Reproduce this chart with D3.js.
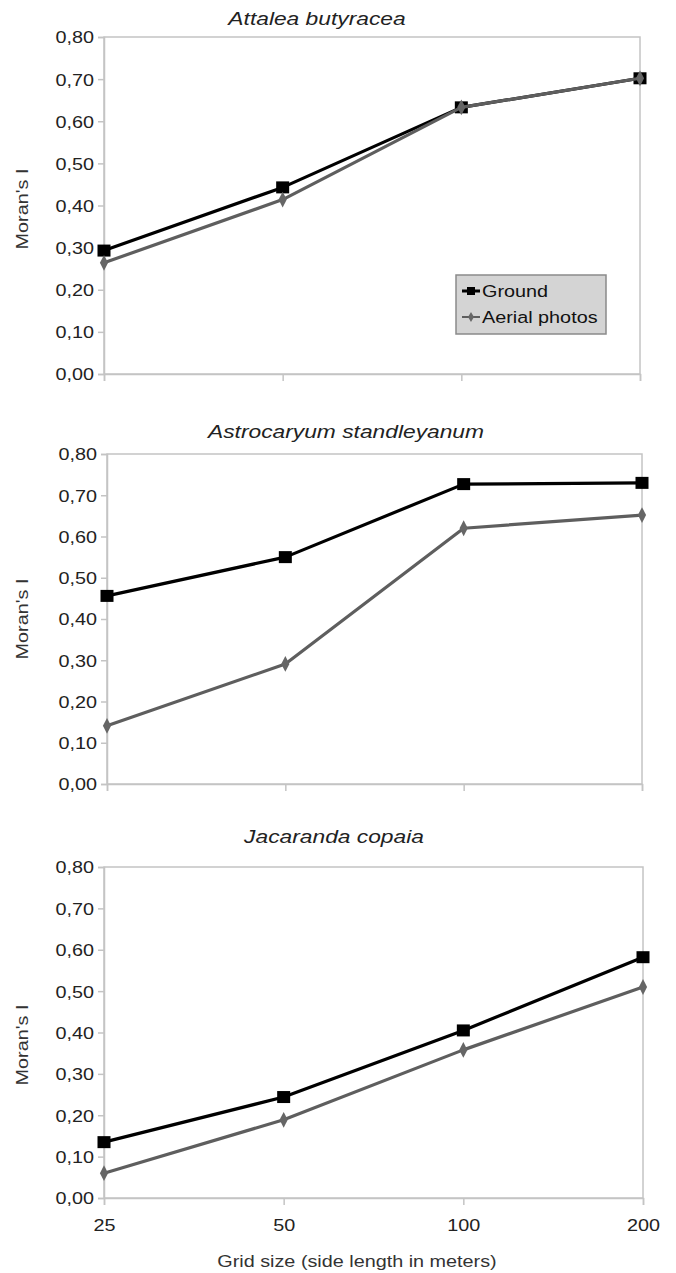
<!DOCTYPE html>
<html><head><meta charset="utf-8">
<script src="https://cdn.jsdelivr.net/npm/d3@7/dist/d3.min.js"></script>
<style>
html,body{margin:0;padding:0;background:#fff;}
svg{display:block;font-family:"Liberation Sans",Arial,sans-serif;}
</style></head>
<body>
<svg id="c" width="676" height="1273"></svg>
<script>
const categories = ["25", "50", "100", "200"];
const titles = ["Attalea butyracea", "Astrocaryum standleyanum", "Jacaranda copaia"];
const seriesNames = ["Ground", "Aerial photos"];
const attaleaGround = [0.293, 0.443, 0.633, 0.702];
const attaleaAerial = [0.264, 0.414, 0.633, 0.702];
const astroGround = [0.456, 0.550, 0.727, 0.730];
const astroAerial = [0.141, 0.291, 0.620, 0.652];
const jacaGround = [0.135, 0.244, 0.405, 0.582];
const jacaAerial = [0.060, 0.189, 0.358, 0.510];
const yTicks = [0, 0.1, 0.2, 0.3, 0.4, 0.5, 0.6, 0.7, 0.8];
const yTitle = "Moran's I";
const xTitle = "Grid size (side length in meters)";

const panelData = [
  [attaleaGround, attaleaAerial],
  [astroGround, astroAerial],
  [jacaGround, jacaAerial]
];
const layout = [
  {left: 104, right: 640, top: 37, bottom: 374, titleX: 317, titleY: 25, yTitleY: 209, showX: false, legend: true},
  {left: 107, right: 642, top: 454, bottom: 784, titleX: 346, titleY: 438, yTitleY: 619, showX: false, legend: false},
  {left: 104, right: 643, top: 867, bottom: 1198, titleX: 334, titleY: 843, yTitleY: 1045, showX: true, legend: false}
];

const SX = 1.2; // horizontal stretch of the reference lettering
const svg = d3.select("#c");
const gridColor = "#c4c4c4";
const colors = ["#000000", "#5e5e5e"];

function stretchText(sel) {
  sel.each(function () {
    const t = d3.select(this);
    const x0 = +(t.attr("x") || 0);
    t.attr("x", x0 / SX).attr("transform", `scale(${SX},1)`);
  });
}
function label(g, x, y, txt, size, opts = {}) {
  const gg = g.append("g").attr("transform", `translate(${x},${y})${opts.rotate ? " rotate(-90)" : ""}`);
  return gg.append("text").attr("transform", `scale(${SX},1)`)
    .attr("text-anchor", opts.anchor || "middle")
    .style("font-size", size + "px").style("font-style", opts.italic ? "italic" : "normal")
    .attr("fill", opts.fill || "#222").text(txt);
}

function drawMarker(g, type, x, y, color) {
  if (type === 0) {
    g.append("rect").attr("x", x - 6.5).attr("y", y - 6).attr("width", 13).attr("height", 12)
      .attr("fill", color);
  } else {
    g.append("path").attr("d", d3.symbol(d3.symbolDiamond, 72)())
      .attr("transform", `translate(${x},${y}) scale(0.9,1)`).attr("fill", "#666");
  }
}

layout.forEach((L, i) => {
  const g = svg.append("g");
  const x = d3.scalePoint().domain(categories).range([L.left, L.right]).padding(0);
  const y = d3.scaleLinear().domain([0, 0.8]).range([L.bottom, L.top]);

  g.append("rect").attr("x", L.left).attr("y", L.top)
    .attr("width", L.right - L.left).attr("height", L.bottom - L.top)
    .attr("fill", "none").attr("stroke", gridColor).attr("stroke-width", 1.5);

  const ya = g.append("g").attr("transform", `translate(${L.left},0)`)
    .call(d3.axisLeft(y).tickValues(yTicks).tickSize(6).tickPadding(4)
      .tickFormat(d => d.toFixed(2).replace(".", ",")));
  ya.select(".domain").attr("stroke", gridColor).attr("stroke-width", 1.5);
  ya.selectAll(".tick line").attr("stroke", gridColor).attr("stroke-width", 1.5);
  ya.selectAll(".tick text").attr("fill", "#222").style("font-size", "16.5px").attr("dy", "0.36em")
    .call(stretchText);

  const xa = g.append("g").attr("transform", `translate(0,${L.bottom})`)
    .call(d3.axisBottom(x).tickSize(7).tickPadding(14).tickFormat(d => L.showX ? d : ""));
  xa.select(".domain").attr("stroke", gridColor).attr("stroke-width", 1.5);
  xa.selectAll(".tick line").attr("stroke", gridColor).attr("stroke-width", 1.5);
  xa.selectAll(".tick text").attr("fill", "#222").style("font-size", "16.5px").call(stretchText);

  label(g, L.titleX, L.titleY, titles[i], 19, {italic: true});
  label(g, 28, L.yTitleY, yTitle, 16.5, {rotate: true, fill: "#333"});

  panelData[i].forEach((vals, s) => {
    const line = d3.line().x((d, k) => x(categories[k])).y(d => y(d));
    g.append("path").datum(vals).attr("d", line).attr("fill", "none")
      .attr("stroke", colors[s]).attr("stroke-width", 3.2).attr("stroke-linejoin", "round");
    vals.forEach((v, k) => drawMarker(g, s, x(categories[k]), y(v), colors[s]));
  });

  if (L.legend) {
    const lg = g.append("g").attr("transform", "translate(456,275)");
    lg.append("rect").attr("width", 150).attr("height", 59).attr("fill", "#d4d4d4")
      .attr("stroke", "#8a8a8a").attr("stroke-width", 1.5);
    seriesNames.forEach((n, s) => {
      const yy = 16 + s * 26;
      lg.append("line").attr("x1", 6).attr("x2", 24).attr("y1", yy).attr("y2", yy)
        .attr("stroke", colors[s]).attr("stroke-width", s === 0 ? 3 : 2);
      if (s === 0) lg.append("rect").attr("x", 11).attr("y", yy - 4).attr("width", 8).attr("height", 8).attr("fill", "#000");
      else lg.append("path").attr("d", d3.symbol(d3.symbolDiamond, 30)()).attr("transform", `translate(15,${yy})`).attr("fill", "#666");
      label(lg, 26, yy + 6, n, 16.5, {anchor: "start", fill: "#111"});
    });
  }

  if (L.showX) {
    label(g, 357, 1267, xTitle, 16.5, {fill: "#333"});
  }
});
</script>
</body></html>
